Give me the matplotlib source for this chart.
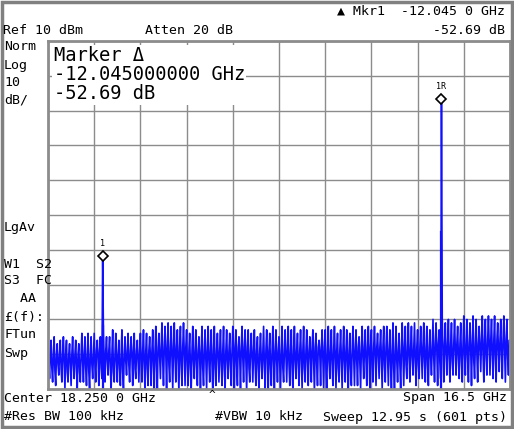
import numpy as np
import matplotlib.pyplot as plt

plt.rcParams['font.family'] = ['DejaVu Sans Mono']

center_ghz = 18.25
span_ghz = 16.5
ref_dbm = 10
db_per_div = 10
n_pts = 601

# envelope of the noise floor, read left to right (dBm), 30 segments
noise_tops = [-75, -75, -74, -74, -73, -74, -73, -71, -71, -72, -72, -72, -72, -73, -72,
              -72, -72, -73, -72, -72, -72, -72, -71, -71, -71, -70, -70, -69, -69, -69]
noise_mids = [-80, -80, -80, -79, -80, -79, -79, -78, -78, -79, -79, -79, -78, -79, -79,
              -79, -79, -78, -79, -79, -78, -78, -79, -78, -78, -77, -77, -77, -76, -76]
noise_lows = [-87, -88, -88, -87, -88, -87, -89, -88, -89, -88, -89, -88, -89, -88, -89,
              -88, -88, -89, -88, -89, -88, -88, -89, -87, -87, -87, -86, -87, -86, -86]
# cycle-to-cycle ripple (dB)
top_ripple = [0, -1, 0, -2, -1, 0, -1, -2, 0, -1, -3, 0, -1]
low_ripple = [0, -1, -2, 1, -1, -2, 0, -1, 1, -2, 0]

# markers: frequency (GHz), level (dBm), label
marker_freqs = [11.96, 24.04]
marker_levels = [-51.8, -6.6]
marker_labels = ["1", "1R"]
spur_freqs = [11.96, 24.04]
spur_levels = [-72, -45]

start = center_ghz - span_ghz / 2
stop = center_ghz + span_ghz / 2
freq = np.linspace(start, stop, n_pts)

pattern = []
k = 0
for t, m, b in zip(noise_tops, noise_mids, noise_lows):
    for _ in range(5):
        hi = t + top_ripple[k % len(top_ripple)]
        lo = b + low_ripple[k % len(low_ripple)]
        pattern += [hi, m + low_ripple[(k + 3) % len(low_ripple)] - 3, lo, m]
        k += 1
trace = np.array((pattern + pattern[-1:])[:n_pts], dtype=float)
for f, lv in zip(marker_freqs, marker_levels):
    trace[np.argmin(abs(freq - f))] = lv

fig = plt.figure(figsize=(5.14, 4.29), dpi=100)
fig.patch.set_facecolor('white')
border = plt.Rectangle((0.003, 0.004), 0.994, 0.992, transform=fig.transFigure,
                       fill=False, edgecolor='#808080', linewidth=2.5)
fig.patches.append(border)

ax = fig.add_axes([48 / 514, 40 / 429, 462 / 514, 348 / 429])
bottom = ref_dbm - 10 * db_per_div
ax.set_xlim(start, stop)
ax.set_ylim(bottom, ref_dbm)
ax.set_xticks(np.linspace(start, stop, 11))
ax.set_yticks(np.linspace(bottom, ref_dbm, 11))
ax.grid(True, color='#8c8c8c', linewidth=1)
ax.tick_params(length=0, labelbottom=False, labelleft=False)
for s in ax.spines.values():
    s.set_color('#8c8c8c')
    s.set_linewidth(2)

ax.plot(freq, trace, color='#1010ff', linewidth=1.2)
for f, lv in zip(spur_freqs, spur_levels):
    ax.plot([f, f], [bottom, lv], color='#1010ff', linewidth=1.6)
for f, lv, lab in zip(marker_freqs, marker_levels, marker_labels):
    ax.plot([f], [lv], marker='D', markersize=5, markerfacecolor='white',
            markeredgecolor='black', markeredgewidth=1.2)
    ax.annotate(lab, (f, lv), xytext=(0, 7), textcoords='offset points',
                ha='center', fontsize=6)

ax.text(0.012, 0.985, "Marker \u0394\n-12.045000000 GHz\n-52.69 dB", transform=ax.transAxes,
        va='top', ha='left', fontsize=13.5, linespacing=1.0,
        bbox=dict(facecolor='white', edgecolor='none', pad=1))

def ftxt(x, y, s, ha='left', size=9.5):
    fig.text(x / 514, 1 - y / 429, s, ha=ha, va='center', fontsize=size)

ftxt(505, 11, "\u25b2 Mkr1  -12.045 0 GHz", ha='right')
ftxt(3, 30, "Ref 10 dBm")
ftxt(145, 30, "Atten 20 dB")
ftxt(505, 30, "-52.69 dB", ha='right')
for y, s in [(47, "Norm"), (65, "Log"), (82, "10"), (100, "dB/"), (228, "LgAv"),
             (264, "W1  S2"), (281, "S3  FC"), (299, "  AA"), (317, "\u00a3(f):"),
             (335, "FTun"), (353, "Swp")]:
    ftxt(4, y, s)
ftxt(4, 398, "Center 18.250 0 GHz")
ftxt(209, 395, "^", size=8)
ftxt(507, 398, "Span 16.5 GHz", ha='right')
ftxt(4, 417, "#Res BW 100 kHz")
ftxt(215, 417, "#VBW 10 kHz")
ftxt(507, 417, "Sweep 12.95 s (601 pts)", ha='right')

fig.savefig("out.png", dpi=100)
